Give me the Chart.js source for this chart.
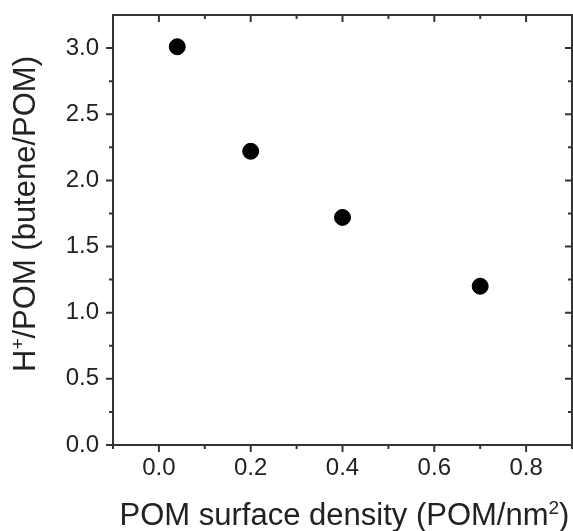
<!DOCTYPE html>
<html lang="en">
<head>
<meta charset="UTF-8" />
<title>H+/POM vs POM surface density</title>
<script src="https://cdn.jsdelivr.net/npm/chart.js"></script>
<style>
  html, body { margin: 0; padding: 0; background: #fff; overflow: hidden; }
  #wrap { width: 573px; height: 531px; }
  canvas { display: block; }
</style>
</head>
<body>
<div id="wrap"><canvas id="chart"></canvas></div>
<script>
    // data
    const density = [0.04, 0.2, 0.4, 0.7];      // POM/nm2
    const hPerPom = [3.01, 2.22, 1.72, 1.20];   // butene/POM
    const xTicks = [0.0, 0.2, 0.4, 0.6, 0.8];
    const yTicks = [0.0, 0.5, 1.0, 1.5, 2.0, 2.5, 3.0];
    const xMinor = [-0.1, 0.1, 0.3, 0.5, 0.7, 0.9];
    const yMinor = [0.25, 0.75, 1.25, 1.75, 2.25, 2.75];

    const FONT = '"Liberation Sans", Arial, sans-serif';
    const INK = '#222';

    // text with superscript parts, centered on (0,0) baseline
    function richText(ctx, parts, size) {
        const supSize = Math.round(size * 0.6);
        let w = 0;
        parts.forEach(p => {
            ctx.font = `${p.sup ? supSize : size}px ${FONT}`;
            p.w = ctx.measureText(p.t).width;
            w += p.w;
        });
        let x = -w / 2;
        ctx.textAlign = 'left';
        ctx.textBaseline = 'alphabetic';
        parts.forEach(p => {
            ctx.font = `${p.sup ? supSize : size}px ${FONT}`;
            ctx.fillText(p.t, x, p.sup ? -size * 0.36 : 0);
            x += p.w;
        });
    }

    const frame = {
        id: 'frame',
        afterDraw(chart) {
            const { ctx, chartArea: a, scales: { x, y } } = chart;
            ctx.save();
            ctx.strokeStyle = '#333';
            ctx.lineWidth = 2;
            ctx.strokeRect(a.left, a.top, a.right - a.left, a.bottom - a.top);

            // major + minor ticks, out on bottom/left, in on top/right
            ctx.beginPath();
            const xMarks = (vals, len) => vals.forEach(v => {
                const px = x.getPixelForValue(v);
                ctx.moveTo(px, a.bottom); ctx.lineTo(px, a.bottom + len);
                ctx.moveTo(px, a.top); ctx.lineTo(px, a.top + len);
            });
            const yMarks = (vals, len) => vals.forEach(v => {
                const py = y.getPixelForValue(v);
                ctx.moveTo(a.left, py); ctx.lineTo(a.left - len, py);
                ctx.moveTo(a.right, py); ctx.lineTo(a.right - len, py);
            });
            xMarks(xTicks, 7); xMarks(xMinor, 4);
            yMarks(yTicks, 7); yMarks(yMinor, 4);
            ctx.stroke();

            // axis titles
            ctx.fillStyle = INK;
            ctx.save();
            ctx.translate((a.left + a.right) / 2 + 2, chart.height - 6);
            richText(ctx, [{ t: 'POM surface density (POM/nm' }, { t: '2', sup: true }, { t: ')' }], 31);
            ctx.restore();

            ctx.save();
            ctx.translate(35, (a.top + a.bottom) / 2 - 16);
            ctx.rotate(-Math.PI / 2);
            richText(ctx, [{ t: 'H' }, { t: '+', sup: true }, { t: '/POM (butene/POM)' }], 31);
            ctx.restore();

            ctx.restore();
        }
    };

    new Chart(document.getElementById('chart'), {
        type: 'scatter',
        data: {
            datasets: [{
                label: 'H+/POM',
                data: density.map((d, i) => ({ x: d, y: hPerPom[i] })),
                backgroundColor: '#000',
                borderColor: '#000',
                pointRadius: 8,
                pointHoverRadius: 8
            }]
        },
        options: {
            responsive: true,
            maintainAspectRatio: false,
            animation: false,
            layout: { autoPadding: false, padding: { top: 15, right: 1, left: 0, bottom: 0 } },
            plugins: { legend: { display: false }, tooltip: { enabled: false } },
            scales: {
                x: {
                    type: 'linear',
                    min: -0.1,
                    max: 0.9,
                    afterBuildTicks: s => { s.ticks = xTicks.map(v => ({ value: v })); },
                    afterFit: s => { s.height = 86; s.paddingLeft = 0; s.paddingRight = 0; },
                    grid: { display: false, drawTicks: false },
                    border: { display: false },
                    ticks: {
                        padding: 9,
                        color: INK,
                        font: { family: FONT, size: 24 },
                        callback: v => v.toFixed(1)
                    }
                },
                y: {
                    type: 'linear',
                    min: 0,
                    max: 3.25,
                    afterBuildTicks: s => { s.ticks = yTicks.map(v => ({ value: v })); },
                    afterFit: s => { s.width = 113; s.paddingTop = 0; s.paddingBottom = 0; },
                    grid: { display: false, drawTicks: false },
                    border: { display: false },
                    ticks: {
                        padding: 14,
                        color: INK,
                        font: { family: FONT, size: 24 },
                        callback: v => v.toFixed(1)
                    }
                }
            }
        },
        plugins: [frame]
    });
</script>
</body>
</html>
